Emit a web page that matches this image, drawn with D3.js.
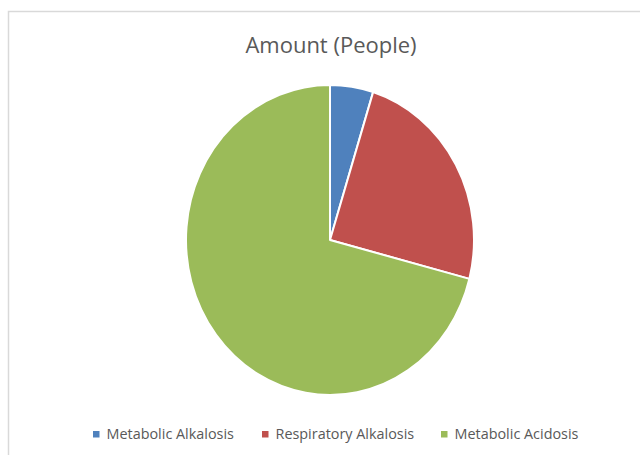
<!DOCTYPE html>
<html>
<head>
<meta charset="utf-8">
<script src="https://cdn.jsdelivr.net/npm/d3@7"></script>
<style>
  html, body { margin: 0; padding: 0; background: #fff; }
  svg { display: block; }
</style>
</head>
<body>
<svg id="chart" width="640" height="455"></svg>
<script>
const categories = ["Metabolic Alkalosis", "Respiratory Alkalosis", "Metabolic Acidosis"];
const values = [3, 15, 44];
const colors = ["#4F81BD", "#C0504D", "#9BBB59"];
const title = "Amount (People)";

const svg = d3.select("#chart");

// chart frame
svg.append("path")
  .attr("d", "M8.5,455 L8.5,11.5 L640,11.5")
  .attr("fill", "none")
  .attr("stroke", "#d9d9d9")
  .attr("stroke-width", 1.5);

svg.append("text")
  .attr("x", 331)
  .attr("y", 53)
  .attr("text-anchor", "middle")
  .attr("font-family", "'Open Sans', 'Noto Sans', sans-serif")
  .attr("font-size", 22)
  .attr("fill", "#595959")
  .text(title);

const cx = 330, cy = 240, rx = 144, ry = 155;
const pie = d3.pie().sort(null).value(d => d)(values);
const arc = d3.arc().innerRadius(0).outerRadius(rx);

const g = svg.append("g")
  .attr("transform", `translate(${cx},${cy}) scale(1,${ry / rx})`);

g.selectAll("path.slice")
  .data(pie)
  .join("path")
  .attr("class", "slice")
  .attr("d", arc)
  .attr("fill", (d, i) => colors[i])
  .attr("stroke", "#fff")
  .attr("stroke-width", 2)
  .attr("vector-effect", "non-scaling-stroke")
  .attr("stroke-linejoin", "round");

// legend
const legendX = [96, 265, 444];
const lg = svg.append("g");
const items = lg.selectAll("g.item")
  .data(categories)
  .join("g")
  .attr("class", "item")
  .attr("transform", (d, i) => `translate(${legendX[i]},434)`);
items.append("rect")
  .attr("x", -3).attr("y", -3)
  .attr("width", 6.5).attr("height", 6.5)
  .attr("fill", (d, i) => colors[i]);
items.append("text")
  .attr("x", 10.5)
  .attr("y", 4.5)
  .attr("font-family", "'Open Sans', 'Noto Sans', sans-serif")
  .attr("font-size", 14.4)
  .attr("fill", "#595959")
  .text(d => d);
</script>
</body>
</html>
